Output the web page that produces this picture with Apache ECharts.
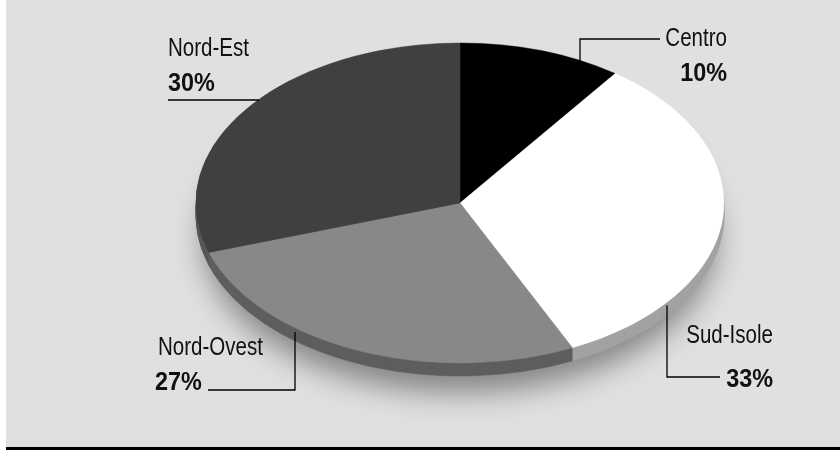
<!DOCTYPE html>
<html><head><meta charset="utf-8">
<script src="https://cdn.jsdelivr.net/npm/echarts@6/dist/echarts.min.js"></script>
<style>html,body{margin:0;padding:0;background:#fff}#c{width:840px;height:450px}</style>
</head><body><div id="c"></div>
<script>
// ---- data ----
const categories = ['Centro', 'Sud-Isole', 'Nord-Ovest', 'Nord-Est'];
const values = [10, 33, 27, 30];

// ---- styles ----
const topColors = ['#000000', '#ffffff', '#888888', '#404040'];
const sideColors = ['#161616', '#a2a2a2', '#5e5e5e', '#585858'];
const PIE = { cx: 460, cy: 203, rx: 264, ry: 160, depth: 13 };
const FONT = "'Liberation Sans',Arial,sans-serif";
const NAME_FONT = "26px " + FONT;
const PCT_FONT = "bold 26px " + FONT;
const NAME_SX = 0.79, PCT_SX = 0.9;

const total = values.reduce((a, b) => a + b, 0);
const sy = PIE.ry / PIE.rx;

function renderItem(params, api) {
  const i = params.dataIndex;
  let before = 0;
  for (let k = 0; k < i; k++) before += values[k];
  const v = api.value(0);
  const a0 = -Math.PI / 2 + before / total * 2 * Math.PI;
  const a1 = a0 + v / total * 2 * Math.PI;
  const children = [];
  for (let d = PIE.depth; d >= 1; d--) {
    children.push({
      type: 'sector',
      shape: { cx: PIE.cx, cy: PIE.cy, r: PIE.rx, r0: 0, startAngle: a0, endAngle: a1, clockwise: true },
      originX: PIE.cx, originY: PIE.cy, scaleY: sy, y: d,
      style: { fill: sideColors[i], stroke: sideColors[i], lineWidth: 0.8 },
      z2: 20 - d
    });
  }
  children.push({
    type: 'sector',
    shape: { cx: PIE.cx, cy: PIE.cy, r: PIE.rx, r0: 0, startAngle: a0, endAngle: a1, clockwise: true },
    originX: PIE.cx, originY: PIE.cy, scaleY: sy,
    style: { fill: topColors[i], stroke: topColors[i], lineWidth: 0.6 },
    z2: 100
  });
  return { type: 'group', children };
}

function halfH(x) { const t = (x - PIE.cx) / PIE.rx; return PIE.ry * Math.sqrt(Math.max(0, 1 - t * t)); }
function halfW(y) { const t = (y - PIE.cy) / PIE.ry; return PIE.rx * Math.sqrt(Math.max(0, 1 - t * t)); }

function txt(text, x, baseline, font, align, sx) {
  return { type: 'text', x: x, y: baseline - 9, z: 50, scaleX: sx,
    style: { text: text, font: font, fill: '#111111', textAlign: align, textVerticalAlign: 'middle' } };
}
function pl(points) {
  return { type: 'polyline', z: 50, shape: { points: points },
    style: { stroke: '#000000', lineWidth: 1.3, fill: null } };
}

const graphics = [
  { type: 'rect', z: -10, shape: { x: 6, y: 0, width: 834, height: 447 }, style: { fill: '#e0e0e0' } },
  { type: 'rect', z: -10, shape: { x: 6, y: 447, width: 834, height: 3 }, style: { fill: '#000000' } },
  { type: 'ellipse', z: -5, shape: { cx: PIE.cx, cy: PIE.cy + PIE.depth, rx: PIE.rx - 8, ry: PIE.ry - 6 },
    style: { fill: '#5e5e5e', shadowBlur: 30, shadowOffsetY: 22, shadowColor: 'rgba(0,0,0,0.42)' } },
  // Centro
  txt(categories[0], 727, 48, NAME_FONT, 'right', NAME_SX),
  txt(values[0] + '%', 727, 83, PCT_FONT, 'right', PCT_SX),
  pl([[580, PIE.cy - halfH(580) + 2], [580, 39], [660, 39]]),
  // Sud-Isole
  txt(categories[1], 773, 345, NAME_FONT, 'right', NAME_SX),
  txt(values[1] + '%', 773, 389, PCT_FONT, 'right', PCT_SX),
  pl([[667, PIE.cy + halfH(667) + 3], [667, 377], [720, 377]]),
  // Nord-Ovest
  txt(categories[2], 158, 357, NAME_FONT, 'left', NAME_SX),
  txt(values[2] + '%', 155, 392, PCT_FONT, 'left', PCT_SX),
  pl([[295, PIE.cy + halfH(295) + 4], [295, 390], [208, 390]]),
  // Nord-Est
  txt(categories[3], 168, 58, NAME_FONT, 'left', NAME_SX),
  txt(values[3] + '%', 168, 93, PCT_FONT, 'left', PCT_SX),
  pl([[168, 100], [PIE.cx - halfW(100) + 1, 100]])
];

const chart = echarts.init(document.getElementById('c'), null, { renderer: 'canvas' });
chart.setOption({
  backgroundColor: '#ffffff',
  animation: false,
  graphic: { elements: graphics },
  series: [{
    type: 'custom',
    coordinateSystem: 'none',
    silent: true,
    z: 2,
    renderItem: renderItem,
    data: values.map((v, i) => ({ name: categories[i], value: [v] }))
  }]
});
</script>
</body></html>
